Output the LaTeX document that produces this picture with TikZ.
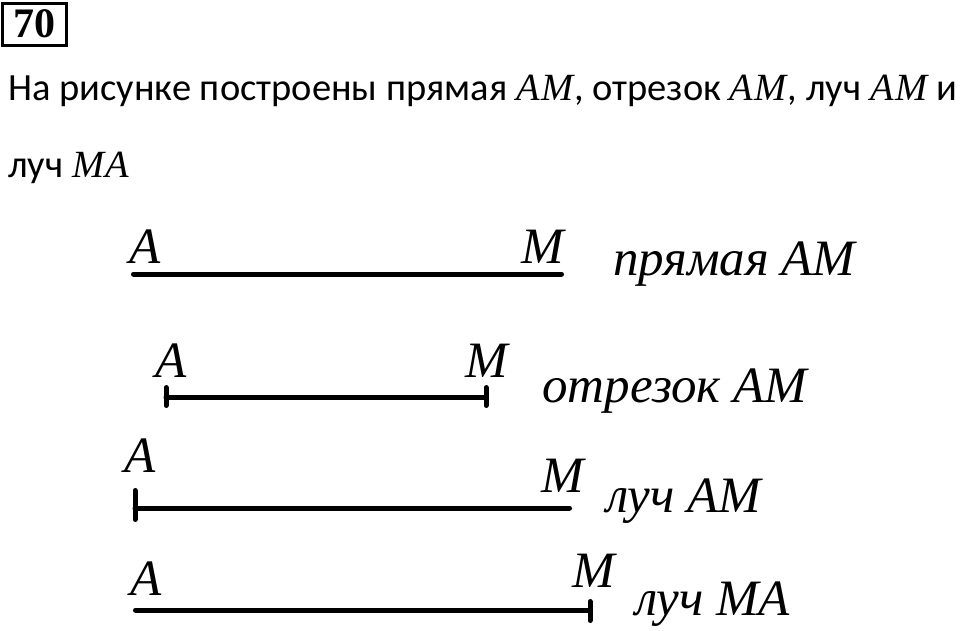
\documentclass[tikz,border=0pt]{standalone}
\usepackage{fontspec}
\setmainfont{Carlito}
\newfontfamily\tnr{Liberation Serif}
\newcommand{\mth}[2]{{\tnr\itshape #1\kern1.5pt #2\kern1pt}}
\usetikzlibrary{calc}
\begin{document}
\begin{tikzpicture}[x=1pt,y=-1pt,
  body/.style={anchor=base west, inner sep=0pt, font=\fontsize{38.5}{44}\selectfont},
  lab/.style={anchor=base west, inner sep=0pt, font=\tnr\itshape\fontsize{51}{56}\selectfont},
  seg/.style={line width=5pt, line cap=round},
  numbox/.style={draw, line width=3pt, minimum width=64pt, minimum height=42pt, inner sep=0pt,
    font=\tnr\bfseries\fontsize{42}{46}\selectfont}]
\useasboundingbox (0,0) rectangle (960,630);
\fill[white] (0,0) rectangle (960,630);
% number box
\node[numbox] (num) at (34,24) {70};
% statement
\node[body] (t1) at (8,100) {На рисунке построены прямая \mth{A}{M}, отрезок \mth{A}{M}, луч \mth{A}{M} и};
\node[body] (t2) at (8,177) {луч \mth{M}{A}};
% line AM
\coordinate (a1) at (133.5,274);
\coordinate (m1) at (561.5,274);
\draw[seg] (a1) -- (m1);
\node[lab] (la1) at (129,263) {A};
\node[lab] (lm1) at (521,263) {M};
\node[lab] (n1) at (613,275) {прямая AM};
% segment AM
\coordinate (a2) at (166,397);
\coordinate (m2) at (486,397);
\draw[seg] (a2) -- (m2);
\draw[seg] ($(a2)+(0,-9.5)$) -- ($(a2)+(0,8.5)$);
\draw[seg] ($(m2)+(0,-9.5)$) -- ($(m2)+(0,8.5)$);
\node[lab] (la2) at (155,377) {A};
\node[lab] (lm2) at (465,377) {M};
\node[lab] (n2) at (542,402) {отрезок AM};
% ray AM
\coordinate (a3) at (135,508);
\coordinate (m3) at (569.5,508);
\draw[seg] (a3) -- (m3);
\draw[seg] ($(a3)+(0,-17.5)$) -- ($(a3)+(0,11.5)$);
\node[lab] (la3) at (124,472) {A};
\node[lab] (lm3) at (541,492) {M};
\node[lab] (n3) at (606,512) {луч AM};
% ray MA
\coordinate (a4) at (135.5,610);
\coordinate (m4) at (590,610);
\draw[seg] (a4) -- (m4);
\draw[seg] ($(m4)+(0,-8.5)$) -- ($(m4)+(0,10.5)$);
\node[lab] (la4) at (130,595) {A};
\node[lab] (lm4) at (572,587) {M};
\node[lab] (n4) at (635,615) {луч MA};
\end{tikzpicture}
\end{document}
